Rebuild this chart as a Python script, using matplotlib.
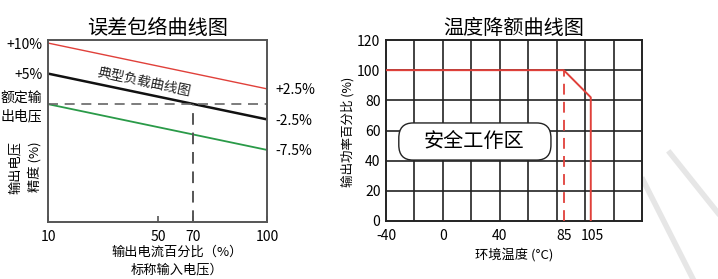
import numpy as np
import matplotlib.pyplot as plt
from matplotlib.lines import Line2D
from matplotlib.patches import FancyBboxPatch

plt.rcParams['font.family'] = ['Noto Sans CJK SC', 'DejaVu Sans']
plt.rcParams['axes.unicode_minus'] = False

# error envelope chart data
load_pct = [10, 100]
upper_env = [10, 2.5]
typical = [5, -2.5]
lower_env = [0, -7.5]
load_ticks = [10, 50, 70, 100]
knee_load = 70
left_ytick_vals = [10, 5, 0]
left_ytick_labels = ['+10%', '+5%', '额定输\n出电压']
right_ytick_vals = [2.5, -2.5, -7.5]
right_ytick_labels = ['+2.5%', '-2.5%', '-7.5%']

# temperature derating data
temp = [-40, 85, 104, 104]
power = [100, 100, 82, 0]
derate_start = 85
temp_ticks = [-40, 0, 40, 85, 105]
power_ticks = [0, 20, 40, 60, 80, 100, 120]

red = '#e0403a'
green = '#2a9a48'

fig = plt.figure(figsize=(7.18, 2.79), dpi=100)

# ---- left chart ----
ax = fig.add_axes([0.0669, 0.2043, 0.305, 0.6523])
# schematic (non-linear) x axis
xp = [10, 50, 70, 100]
fp = [0, 0.502, 0.662, 1]
ax.set_xscale('function', functions=(lambda x: np.interp(x, xp, fp),
                                      lambda y: np.interp(y, fp, xp)))
ax.set_xlim(10, 100)
ax.set_ylim(-19.3, 10.5)
ax.plot(load_pct, upper_env, color=red, lw=1.0)
ax.plot(load_pct, typical, color='#111111', lw=1.8)
ax.plot(load_pct, lower_env, color=green, lw=1.3)
ax.hlines(0, 10, 100, color='#666666', lw=1.2, linestyles=(0, (6, 4)))
ax.vlines(knee_load, -19.3, 0, color='#555555', lw=1.4, linestyles=(0, (6, 4)))
ax.text(45, 3.7, '典型负载曲线图', rotation=-12, fontsize=9.8,
        ha='center', va='center', color='#222222')
ax.set_xticks(load_ticks)
ax.set_xticklabels([str(t) for t in load_ticks])
ax.tick_params(axis='x', direction='in', length=4, width=1.2, color='#555555',
               labelsize=10, pad=6)
ax.set_yticks(left_ytick_vals)
ax.set_yticklabels(left_ytick_labels, linespacing=1.35)
ax.tick_params(axis='y', length=0, labelsize=10, pad=4)
for s in ax.spines.values():
    s.set_color('#555555')
    s.set_linewidth(1.4)
ax2 = ax.twinx()
ax2.set_ylim(-19.3, 10.5)
ax2.set_yticks(right_ytick_vals)
ax2.set_yticklabels(right_ytick_labels)
ax2.tick_params(axis='y', length=0, labelsize=10, pad=6)
for s in ax2.spines.values():
    s.set_visible(False)
ax.set_title('误差包络曲线图', fontsize=14.5, pad=4)
fig.text(177 / 718, 1 - 252 / 279, '输出电流百分比（%）', fontsize=9.5, ha='center', va='center')
fig.text(177 / 718, 1 - 270 / 279, '标称输入电压）', fontsize=9.5, ha='center', va='center')
fig.text(15 / 718, 1 - 167 / 279, '输出电压', fontsize=9.5, rotation=90, ha='center', va='center')
fig.text(35 / 718, 1 - 167 / 279, '精度 (%)', fontsize=9.5, rotation=90, ha='center', va='center')

# ---- right chart ----
bx = fig.add_axes([0.5376, 0.2079, 0.3565, 0.6487])
bx.set_xlim(-40, 140)
bx.set_ylim(0, 120)
for gx in range(-20, 140, 20):
    bx.axvline(gx, color='#222222', lw=1.2, zorder=1)
for gy in range(20, 120, 20):
    bx.axhline(gy, color='#222222', lw=1.2, zorder=1)
bx.plot(temp, power, color=red, lw=1.4, zorder=3)
bx.vlines(derate_start, 0, 100, color=red, lw=1.3, linestyles=(0, (6, 4)), zorder=3)
bx.add_patch(FancyBboxPatch((-31, 40.4), 107, 24.6,
                            boxstyle='round,pad=0,rounding_size=10',
                            fc='white', ec='#222222', lw=1.0, zorder=4))
bx.text(22, 52.5, '安全工作区', fontsize=14.5, ha='center', va='center', zorder=5)
bx.set_xticks(temp_ticks)
bx.set_yticks(power_ticks)
bx.tick_params(axis='x', length=0, labelsize=10, pad=6)
bx.tick_params(axis='y', length=0, labelsize=10, pad=4)
for s in bx.spines.values():
    s.set_color('#222222')
    s.set_linewidth(1.4)
bx.set_title('温度降额曲线图', fontsize=14.5, pad=4)
bx.set_xlabel('环境温度 (°C)', fontsize=9.5, labelpad=3)
fig.text(348 / 718, 1 - 132 / 279, '输出功率百分比 (%)', fontsize=9, rotation=90,
         ha='center', va='center')

# light watermark strokes
for (x0, y0, x1, y1) in [(670, 153, 718, 213), (643, 180, 693, 279)]:
    fig.add_artist(Line2D([x0 / 718, x1 / 718], [1 - y0 / 279, 1 - y1 / 279],
                          color='#e6e6e6', lw=4, zorder=0))

fig.savefig('out.png', dpi=100, facecolor='white')
